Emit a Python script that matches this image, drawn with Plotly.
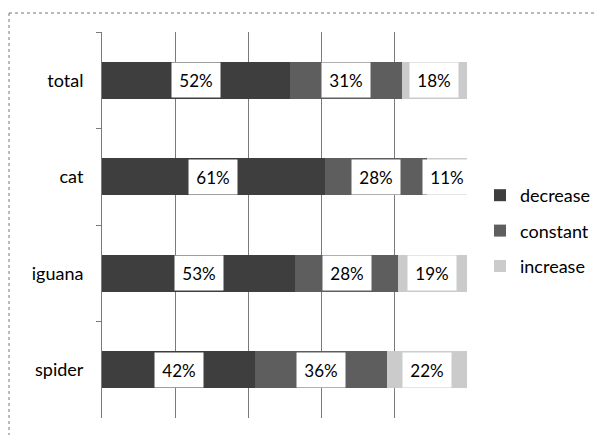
import plotly.graph_objects as go

categories = ["total", "cat", "iguana", "spider"]
decrease = [52, 61, 53, 42]
constant = [31, 28, 28, 36]
increase = [18, 11, 19, 22]
series_names = ["decrease", "constant", "increase"]
colors = ["#3e3e3e", "#5e5e5e", "#cbcbcb"]

W, H = 595, 435
L, R, T, B = 102, 128, 32, 17
pw, ph = W - L - R, H - T - B

fig = go.Figure()
series = [decrease, constant, increase]
for i, (name, vals) in enumerate(zip(series_names, series)):
    fig.add_trace(go.Bar(
        y=categories, x=vals, name=name, orientation="h",
        marker=dict(color=colors[i], line=dict(width=0)),
        legendgroup=name, hoverinfo="skip",
    ))

annotations = []
for ci, cat in enumerate(categories):
    cum = 0
    totals = sum(s[ci] for s in series)
    for s in series:
        v = s[ci]
        annotations.append(dict(
            x=(cum + v / 2) / totals * 100, y=cat, xref="x", yref="y",
            text=f"{v}%", showarrow=False, bgcolor="white",
            width=46, height=32,
            font=dict(family="Lato", size=17, color="black"),
        ))
        cum += v

fig.update_layout(barnorm="percent")

def px2paper_x(px):
    return (px - L) / pw

def px2paper_y(py):
    return (H - B - py) / ph

shapes = [
    dict(type="line", xref="paper", yref="paper",
         x0=px2paper_x(9), x1=px2paper_x(W + 5), y0=px2paper_y(13), y1=px2paper_y(13),
         line=dict(color="#777", width=1, dash="dot")),
    dict(type="line", xref="paper", yref="paper",
         x0=px2paper_x(9), x1=px2paper_x(9), y0=px2paper_y(13), y1=px2paper_y(H + 5),
         line=dict(color="#777", width=1, dash="dot")),
]

fig.update_layout(
    width=W, height=H,
    margin=dict(l=L, r=R, t=T, b=B, autoexpand=False),
    paper_bgcolor="white", plot_bgcolor="white",
    barmode="stack", bargap=0.615,
    annotations=annotations, shapes=shapes,
    font=dict(family="Lato", size=17, color="black"),
    xaxis=dict(range=[0, 100], dtick=20, showticklabels=False,
               showgrid=True, gridcolor="#7a7a7a", gridwidth=1,
               zeroline=False, showline=False, fixedrange=True),
    yaxis=dict(autorange="reversed", categoryorder="array", categoryarray=categories,
               showline=True, linecolor="#7a7a7a", linewidth=1,
               ticks="outside", tickson="boundaries", ticklen=5, tickcolor="#7a7a7a",
               ticklabelstandoff=14, showgrid=False,
               tickfont=dict(family="Lato", size=18, color="black")),
    legend=dict(x=px2paper_x(480), y=px2paper_y(177), xanchor="left", yanchor="top",
                traceorder="grouped", tracegroupgap=9, itemwidth=30,
                font=dict(family="Lato", size=18, color="black"),
                bgcolor="rgba(0,0,0,0)"),
)

fig.write_html("out.html")
